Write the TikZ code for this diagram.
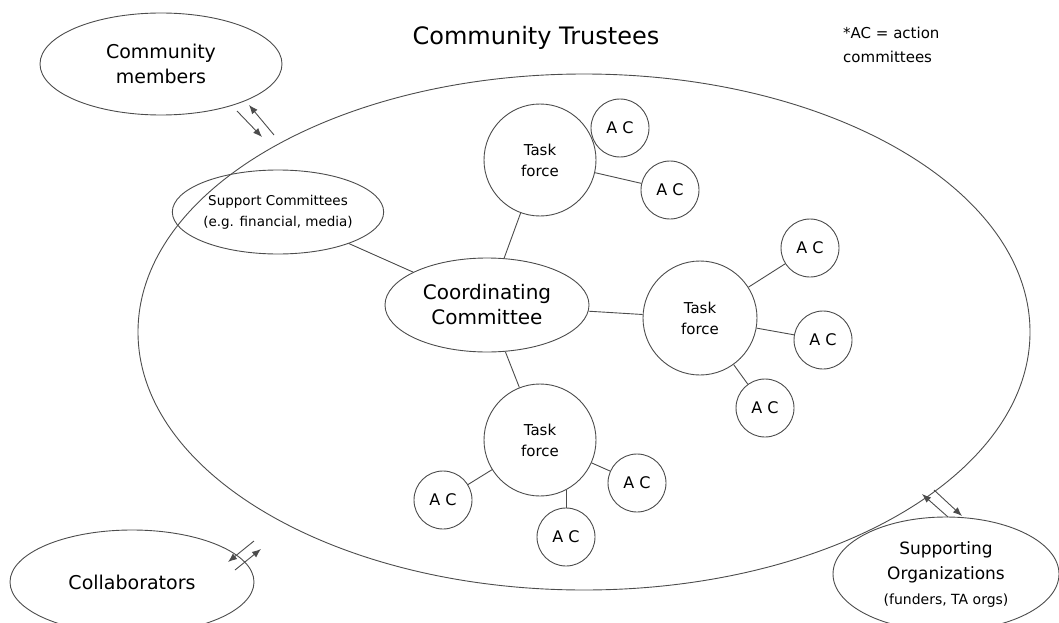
\documentclass[tikz,border=0pt]{standalone}
\usepackage{fontspec}
\setmainfont{DejaVu Sans}
\usetikzlibrary{arrows.meta,shapes.geometric}

\tikzset{
  blob/.style={draw=black!70, line width=0.9pt, ellipse, inner sep=0pt, align=center},
  taskforce/.style={draw=black!70, line width=0.9pt, circle, inner sep=0pt, minimum size=112pt,
    align=center, font=\fontsize{15}{21}\selectfont},
  acnode/.style={draw=black!70, line width=0.9pt, circle, inner sep=0pt, minimum size=58pt,
    font=\fontsize{16}{18}\selectfont},
  link/.style={draw=black!70, line width=0.9pt},
  flow/.style={link, -{Latex[length=9pt,width=7pt]}}
}

\begin{document}
\begin{tikzpicture}[x=1pt,y=-1pt]
  \useasboundingbox (0,0) rectangle (1059,623);

  % the trustees
  \node[blob, minimum width=892pt, minimum height=516pt] (trust) at (584,332) {};
  \node[font=\fontsize{24}{26}\selectfont] (title) at (536,38) {Community Trustees};
  \node[align=left, anchor=north west, inner sep=0pt, font=\fontsize{15}{24}\selectfont]
    (note) at (843,27) {*AC = action\\committees};

  % outside groups
  \node[blob, minimum width=242pt, minimum height=102pt, font=\fontsize{19}{25}\selectfont]
    (members) at (161,64) {Community\\members};
  \node[blob, minimum width=244pt, minimum height=104pt, font=\fontsize{19}{22}\selectfont]
    (collab) at (132,582) {Collaborators};
  \node[blob, minimum width=226pt, minimum height=114pt, font=\fontsize{17}{25}\selectfont]
    (orgs) at (946,574) {Supporting\\Organizations\\{\fontsize{14}{16}\selectfont(funders, TA orgs)}};

  % inside
  \node[blob, minimum width=200pt, minimum height=84pt, font=\fontsize{13.5}{21}\selectfont]
    (support) at (278,212) {Support Committees\\(e.g. financial, media)};
  \node[blob, minimum width=204pt, minimum height=94pt, font=\fontsize{20}{25}\selectfont]
    (coord) at (487,305) {Coordinating\\Committee};

  \node[taskforce] (tfa) at (540,160) {Task\\force};
  \node[taskforce, minimum size=114pt] (tfb) at (700,318) {Task\\force};
  \node[taskforce] (tfc) at (540,440) {Task\\force};

  \node[acnode] (aca) at (620,128) {A C};
  \node[acnode] (acb) at (670,190) {A C};
  \node[acnode] (acc) at (810,248) {A C};
  \node[acnode] (acd) at (823,340) {A C};
  \node[acnode] (ace) at (765,408) {A C};
  \node[acnode] (acf) at (443,500) {A C};
  \node[acnode] (acg) at (566,537) {A C};
  \node[acnode] (ach) at (637,483) {A C};

  \draw[link] (support) -- (coord);
  \draw[link] (coord) -- (tfa);
  \draw[link] (coord) -- (tfb);
  \draw[link] (coord) -- (tfc);
  \draw[link] (tfa) -- (acb);
  \draw[link] (tfb) -- (acc);
  \draw[link] (tfb) -- (acd);
  \draw[link] (tfb) -- (ace);
  \draw[link] (tfc) -- (acf);
  \draw[link] (tfc.-62) -- (tfc.-62 |- acg.north);
  \draw[link] (tfc) -- (ach);

  % two-way arrows
  \coordinate (ma1) at (237,111);
  \coordinate (ma2) at (262,137);
  \coordinate (mb1) at (274,135);
  \coordinate (mb2) at (249,105);
  \draw[flow] (ma1) -- (ma2);
  \draw[flow] (mb1) -- (mb2);

  \coordinate (ca1) at (254,541);
  \coordinate (ca2) at (228,562);
  \coordinate (cb1) at (235,570);
  \coordinate (cb2) at (261,549);
  \draw[flow] (ca1) -- (ca2);
  \draw[flow] (cb1) -- (cb2);

  \coordinate (oa1) at (934,490);
  \coordinate (oa2) at (962,516);
  \coordinate (ob1) at (948,517);
  \coordinate (ob2) at (922,494);
  \draw[flow] (oa1) -- (oa2);
  \draw[flow] (ob1) -- (ob2);
\end{tikzpicture}
\end{document}
